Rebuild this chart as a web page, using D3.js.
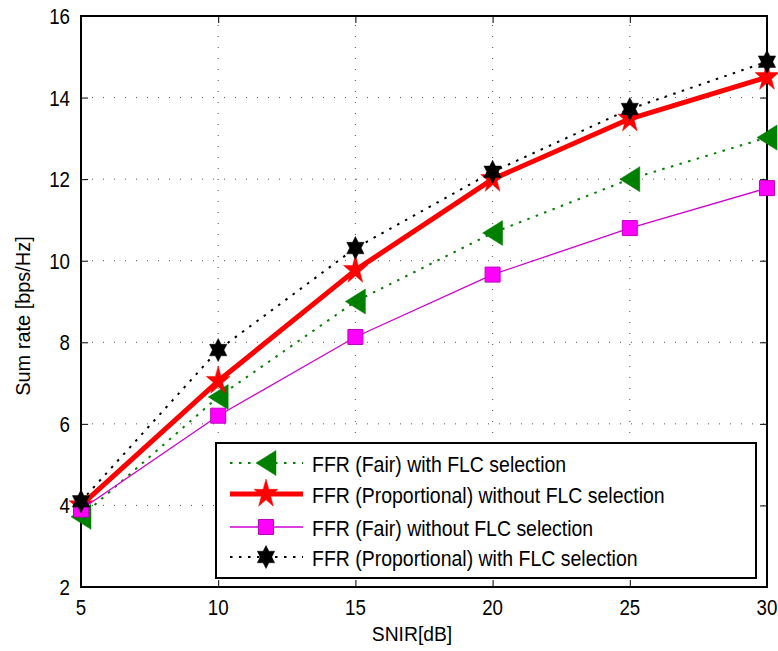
<!DOCTYPE html>
<html><head><meta charset="utf-8">
<script src="https://cdn.jsdelivr.net/npm/d3@7"></script>
<style>html,body{margin:0;padding:0;background:#fff;}svg{display:block;}</style>
</head><body>
<script>
const snir = [5, 10, 15, 20, 25, 30];
const fairWithFLC = [3.72, 6.66, 9.0, 10.68, 12.0, 13.02];
const propWithoutFLC = [4.0, 7.05, 9.77, 12.0, 13.48, 14.5];
const fairWithoutFLC = [3.9, 6.2, 8.13, 9.66, 10.8, 11.78];
const propWithFLC = [4.1, 7.81, 10.31, 12.18, 13.72, 14.88];
const xTicks = [5, 10, 15, 20, 25, 30];
const yTicks = [2, 4, 6, 8, 10, 12, 14, 16];
const seriesNames = [
  "FFR (Fair) with FLC selection",
  "FFR (Proportional) without FLC selection",
  "FFR (Fair) without FLC selection",
  "FFR (Proportional) with FLC selection"
];

const W = 778, H = 651;
const L = 81, R = 767, T = 16, B = 587;
const svg = d3.select("body").append("svg").attr("width", W).attr("height", H);
const x = d3.scaleLinear().domain([5, 30]).range([L, R]);
const y = d3.scaleLinear().domain([2, 16]).range([B, T]);
const FONT = "'Liberation Sans', Arial, Helvetica, sans-serif";

// grid
const grid = svg.append("g");
xTicks.slice(1, -1).forEach(t => grid.append("line")
  .attr("x1", x(t)).attr("x2", x(t)).attr("y1", B).attr("y2", T)
  .attr("stroke", "#555").attr("stroke-width", 1).attr("stroke-dasharray", "1,10"));
yTicks.slice(1, -1).forEach(t => grid.append("line")
  .attr("x1", L).attr("x2", R).attr("y1", y(t)).attr("y2", y(t))
  .attr("stroke", "#555").attr("stroke-width", 1).attr("stroke-dasharray", "1,10"));

// axes via d3 axis (inward ticks)
const axB = svg.append("g").attr("transform", `translate(0,${B})`)
  .call(d3.axisBottom(x).tickValues(xTicks).tickSize(-7).tickPadding(0).tickFormat(""));
const axT = svg.append("g").attr("transform", `translate(0,${T})`)
  .call(d3.axisTop(x).tickValues(xTicks).tickSize(-7).tickFormat(""));
const axLft = svg.append("g").attr("transform", `translate(${L},0)`)
  .call(d3.axisLeft(y).tickValues(yTicks).tickSize(-7).tickFormat(""));
const axRt = svg.append("g").attr("transform", `translate(${R},0)`)
  .call(d3.axisRight(y).tickValues(yTicks).tickSize(-7).tickFormat(""));
[axB, axT, axLft, axRt].forEach(a => {
  a.select(".domain").remove();
  a.selectAll(".tick line").attr("stroke", "#000").attr("stroke-width", 1);
});
svg.append("rect").attr("x", L).attr("y", T).attr("width", R - L).attr("height", B - T)
  .attr("fill", "none").attr("stroke", "#000").attr("stroke-width", 2);

// tick labels
function stext(g, str, tx, ty, size, sx, anchor) {
  return g.append("text").attr("transform", `translate(${tx},${ty}) scale(${sx},1)`)
    .attr("font-family", FONT).attr("font-size", size).attr("text-anchor", anchor || "start")
    .attr("fill", "#000").text(str);
}
const lab = svg.append("g");
xTicks.forEach(t => stext(lab, t, x(t), 615, 22, 0.85, "middle"));
yTicks.forEach(t => stext(lab, t, 70, y(t) + 8, 22, 0.85, "end"));
stext(lab, "SNIR[dB]", 412, 641, 21, 0.92, "middle");
lab.append("text").attr("transform", `translate(30,316) rotate(-90) scale(0.95,1)`)
  .attr("font-family", FONT).attr("font-size", 21).attr("text-anchor", "middle").text("Sum rate [bps/Hz]");

// marker shapes
function starPath(n, rx, ry, inner) {
  const pts = [];
  for (let i = 0; i < 2 * n; i++) {
    const a = -Math.PI / 2 + i * Math.PI / n;
    const r = i % 2 === 0 ? 1 : inner;
    pts.push([Math.cos(a) * r * rx, Math.sin(a) * r * ry]);
  }
  return "M" + pts.map(p => p[0].toFixed(2) + "," + p[1].toFixed(2)).join("L") + "Z";
}
const triPath = "M-10,0L10,-12.5L10,12.5Z";
const pentPath = starPath(5, 12.5, 15, 0.382);
const hexPath = starPath(6, 10, 11.5, 0.577);
const sqPath = "M-7.5,-7.5L7.5,-7.5L7.5,7.5L-7.5,7.5Z";

const series = [
  { vals: fairWithFLC, color: "#008000", width: 2, dash: "2.5,6.5", marker: triPath, fill: "#008000", mstroke: "#008000", mw: 0.5 },
  { vals: propWithoutFLC, color: "#ff0000", width: 5, dash: null, marker: pentPath, fill: "#ff0000", mstroke: "#ff0000", mw: 0.5 },
  { vals: fairWithoutFLC, color: "#d000d0", width: 1.3, dash: null, marker: sqPath, fill: "#ff00ff", mstroke: "#c000c0", mw: 1 },
  { vals: propWithFLC, color: "#000000", width: 2, dash: "2.5,6.5", marker: hexPath, fill: "#000000", mstroke: "#000000", mw: 0.5 }
];

const line = d3.line().x((d, i) => x(snir[i])).y(d => y(d));
series.forEach(s => {
  const g = svg.append("g");
  g.append("path").attr("d", line(s.vals)).attr("fill", "none")
    .attr("stroke", s.color).attr("stroke-width", s.width)
    .attr("stroke-dasharray", s.dash).attr("stroke-linejoin", "round");
  g.selectAll("path.m").data(s.vals).enter().append("path").attr("class", "m")
    .attr("d", s.marker).attr("transform", (d, i) => `translate(${x(snir[i])},${y(d)})`)
    .attr("fill", s.fill).attr("stroke", s.mstroke).attr("stroke-width", s.mw);
});

// legend
const lg = svg.append("g");
lg.append("rect").attr("x", 216).attr("y", 443).attr("width", 540).attr("height", 135)
  .attr("fill", "#fff").attr("stroke", "#000").attr("stroke-width", 2);
const rowY = [463, 494, 527, 557];
series.forEach((s, i) => {
  const yy = rowY[i];
  lg.append("line").attr("x1", 230).attr("x2", 303).attr("y1", yy).attr("y2", yy)
    .attr("stroke", s.color).attr("stroke-width", s.width).attr("stroke-dasharray", s.dash);
  lg.append("path").attr("d", s.marker).attr("transform", `translate(266,${yy})`)
    .attr("fill", s.fill).attr("stroke", s.mstroke).attr("stroke-width", s.mw);
  stext(lg, seriesNames[i], 312, yy + 9, 22, 0.885, "start");
});
</script>
</body></html>
